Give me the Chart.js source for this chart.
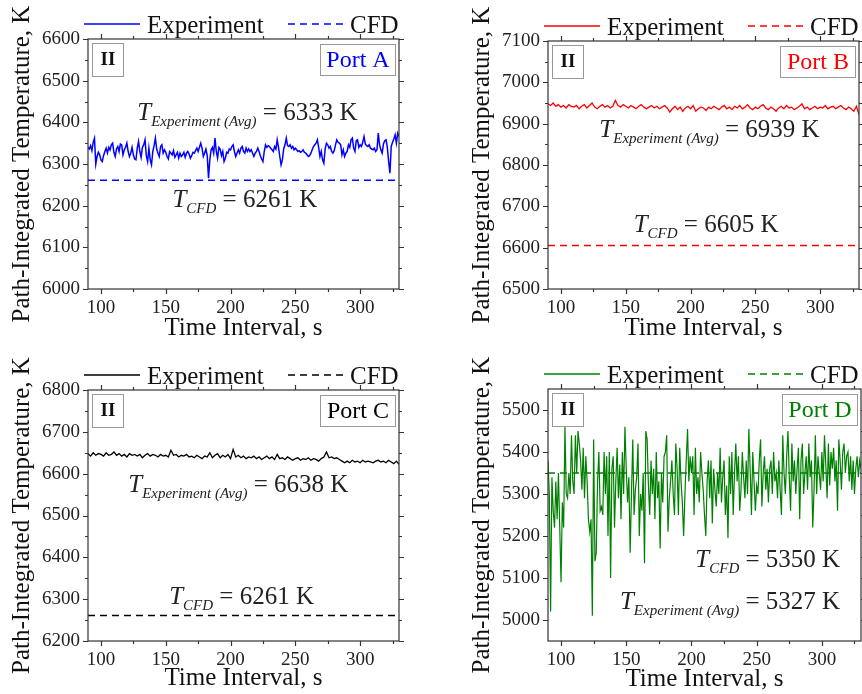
<!DOCTYPE html>
<html>
<head>
<meta charset="utf-8">
<script src="https://cdn.jsdelivr.net/npm/chart.js@4.4.1/dist/chart.umd.min.js"></script>
<style>
  html, body { margin: 0; padding: 0; background: #fff; }
  #wrap { position: relative; width: 862px; height: 694px; overflow: hidden; }
  canvas { position: absolute; }
</style>
</head>
<body>
<div id="wrap">
  <canvas id="cA" width="431" height="347" style="left:0;top:0;width:431px;height:347px"></canvas>
  <canvas id="cB" width="431" height="347" style="left:431px;top:0;width:431px;height:347px"></canvas>
  <canvas id="cC" width="431" height="347" style="left:0;top:347px;width:431px;height:347px"></canvas>
  <canvas id="cD" width="431" height="347" style="left:431px;top:347px;width:431px;height:347px"></canvas>
</div>
<script>
// ---- data ----
const timeStart = 90;   // s, first sample
const timeEnd = 330;

// Port A, 1 s samples from 90 s
const portA = [
  6340, 6336, 6344, 6332, 6352, 6362, 6300, 6318, 6328, 6322,
  6310, 6306, 6320, 6330, 6338, 6326, 6340, 6334, 6346, 6350,
  6328, 6318, 6336, 6342, 6330, 6348, 6346, 6322, 6334, 6340,
  6350, 6330, 6318, 6326, 6340, 6322, 6312, 6310, 6338, 6354,
  6330, 6316, 6340, 6346, 6358, 6320, 6306, 6338, 6310, 6298,
  6330, 6344, 6362, 6336, 6326, 6318, 6342, 6346, 6326, 6334,
  6328, 6318, 6312, 6330, 6326, 6322, 6332, 6316, 6322, 6328,
  6314, 6326, 6318, 6322, 6328, 6316, 6326, 6330, 6324, 6314,
  6320, 6328, 6326, 6332, 6338, 6330, 6340, 6350, 6338, 6318,
  6326, 6336, 6320, 6266, 6310, 6334, 6340, 6326, 6362, 6330,
  6314, 6340, 6336, 6320, 6330, 6306, 6314, 6328, 6326, 6336,
  6334, 6342, 6346, 6330, 6318, 6326, 6334, 6326, 6338, 6342,
  6330, 6326, 6338, 6330, 6336, 6330, 6334, 6326, 6318, 6326,
  6330, 6338, 6330, 6320, 6312, 6306, 6330, 6346, 6340, 6344,
  6342, 6338, 6334, 6330, 6342, 6336, 6358, 6340, 6318, 6298,
  6310, 6336, 6346, 6362, 6344, 6342, 6346, 6338, 6342, 6334,
  6338, 6334, 6330, 6332, 6328, 6330, 6334, 6328, 6326, 6322,
  6318, 6320, 6326, 6334, 6342, 6346, 6350, 6358, 6340, 6318,
  6330, 6310, 6302, 6336, 6350, 6346, 6338, 6342, 6330, 6326,
  6332, 6346, 6358, 6352, 6350, 6346, 6322, 6334, 6318, 6326,
  6330, 6346, 6340, 6358, 6362, 6338, 6330, 6356, 6358, 6340,
  6346, 6342, 6352, 6366, 6348, 6344, 6342, 6346, 6338, 6336,
  6334, 6338, 6330, 6334, 6374, 6346, 6334, 6326, 6348, 6356,
  6358, 6340, 6306, 6278, 6342, 6352, 6360, 6370, 6350, 6374,
  6366
];

// Port B, 2 s samples from 90 s
const portB = [
  6948, 6944, 6950, 6942, 6946, 6940, 6944, 6938, 6946, 6942,
  6940, 6944, 6936, 6942, 6946, 6938, 6944, 6950, 6940, 6936,
  6942, 6946, 6940, 6944, 6938, 6942, 6956, 6944, 6940, 6946,
  6942, 6938, 6944, 6940, 6936, 6942, 6946, 6940, 6936, 6940,
  6944, 6938, 6942, 6936, 6940, 6944, 6938, 6928, 6936, 6942,
  6934, 6940, 6930, 6938, 6942, 6936, 6944, 6930, 6936, 6940,
  6938, 6932, 6940, 6936, 6942, 6938, 6934, 6940, 6944, 6936,
  6940, 6934, 6942, 6938, 6944, 6936, 6940, 6946, 6938, 6934,
  6940, 6936, 6942, 6946, 6938, 6934, 6940, 6936, 6930, 6938,
  6942, 6936, 6944, 6938, 6940, 6934, 6938, 6942, 6948, 6936,
  6940, 6934, 6938, 6942, 6936, 6940, 6938, 6944, 6936, 6940,
  6942, 6936, 6940, 6944, 6938, 6934, 6940, 6936, 6930, 6942,
  6922
];

// Port C, 2 s samples from 90 s
const portC = [
  6648, 6642, 6650, 6644, 6648, 6646, 6642, 6650, 6644, 6646,
  6652, 6644, 6648, 6642, 6646, 6640, 6648, 6644, 6646, 6642,
  6646, 6638, 6644, 6648, 6642, 6646, 6644, 6640, 6646, 6642,
  6644, 6640, 6656, 6644, 6646, 6640, 6644, 6642, 6646, 6640,
  6642, 6638, 6644, 6640, 6636, 6642, 6640, 6650, 6638, 6644,
  6648, 6638, 6644, 6640, 6646, 6636, 6658, 6640, 6644, 6638,
  6642, 6636, 6640, 6638, 6642, 6636, 6640, 6634, 6638, 6642,
  6636, 6640, 6634, 6646, 6636, 6638, 6634, 6640, 6636, 6632,
  6636, 6638, 6632, 6636, 6634, 6638, 6632, 6636, 6634, 6630,
  6636, 6640, 6652, 6638, 6640, 6636, 6638, 6634, 6630, 6626,
  6630, 6626, 6632, 6628, 6630, 6626, 6632, 6628, 6630, 6628,
  6626, 6630, 6632, 6628, 6630, 6626, 6632, 6628, 6624, 6630,
  6622
];

// Port D, 1 s samples from 90 s
const portD = [
  5380, 5300, 5020, 5340, 5260, 5220, 5330, 5240, 5350, 5220,
  5090, 5280, 5220, 5460, 5300, 5290, 5350, 5300, 5440, 5330,
  5300, 5440, 5350, 5450, 5420, 5380, 5310, 5410, 5290, 5390,
  5330, 5240, 5210, 5240, 5010, 5430, 5140, 5160, 5330, 5400,
  5260, 5270, 5250, 5400, 5300, 5390, 5200, 5400, 5100, 5360,
  5390, 5220, 5330, 5410, 5290, 5370, 5240, 5400, 5300, 5460,
  5360, 5280, 5340, 5160, 5300, 5430, 5250, 5310, 5340, 5420,
  5200, 5300, 5260, 5350, 5135, 5450, 5430, 5320, 5250, 5380,
  5300, 5360, 5240, 5400, 5290, 5330, 5170, 5350, 5280, 5390,
  5400, 5440, 5210, 5290, 5330, 5380, 5300, 5250, 5420, 5360,
  5250, 5410, 5330, 5280, 5200, 5300, 5380, 5455, 5330, 5390,
  5350, 5390, 5250, 5410, 5300, 5340, 5280, 5400, 5350, 5310,
  5250, 5200, 5330, 5380, 5290, 5380, 5230, 5360, 5310, 5270,
  5350, 5300, 5410, 5280, 5340, 5380, 5250, 5320, 5195, 5390,
  5300, 5400, 5250, 5350, 5420, 5330, 5390, 5260, 5310, 5400,
  5340, 5290, 5380, 5300, 5455, 5360, 5250, 5400, 5330, 5260,
  5320, 5300, 5380, 5430, 5270, 5350, 5390, 5310, 5360, 5280,
  5360, 5380, 5300, 5400, 5330, 5350, 5290, 5380, 5310, 5250,
  5440, 5350, 5300, 5390, 5450, 5340, 5260, 5420, 5330, 5380,
  5300, 5360, 5410, 5240, 5380, 5420, 5300, 5350, 5390, 5310,
  5420, 5340, 5380, 5220, 5310, 5440, 5300, 5390, 5350, 5310,
  5400, 5330, 5440, 5370, 5290, 5420, 5320, 5400, 5360, 5410,
  5330, 5380, 5260, 5430, 5380, 5310, 5400, 5420, 5350, 5390,
  5400, 5330, 5390, 5310, 5380, 5300, 5360, 5390, 5340, 5380,
  5360
];

const cfdValues = [6261, 6605, 6261, 5350];        // CFD prediction, A..D
const avgValues = [6333, 6939, 6638, 5327];        // experiment averages, A..D
const portNames = ['Port A', 'Port B', 'Port C', 'Port D'];
const xTicks = [100, 150, 200, 250, 300];
const yTicksA = [6000, 6100, 6200, 6300, 6400, 6500, 6600];
const yTicksB = [6500, 6600, 6700, 6800, 6900, 7000, 7100];
const yTicksC = [6200, 6300, 6400, 6500, 6600, 6700, 6800];
const yTicksD = [5000, 5100, 5200, 5300, 5400, 5500];

const SERIF = '"Liberation Serif", "Times New Roman", serif';

function toPoints(values, step) {
  return values.map((v, i) => ({ x: timeStart + i * step, y: v }));
}

// draws T_sub = value K as one run of text
function drawRich(ctx, parts, x, baseY, align) {
  let total = 0;
  parts.forEach(p => { ctx.font = p.font; p.w = ctx.measureText(p.text).width; total += p.w; });
  let cx = align === 'right' ? x - total : x - total / 2;
  parts.forEach(p => {
    ctx.font = p.font;
    ctx.fillText(p.text, cx, baseY + (p.dy || 0));
    cx += p.w;
  });
}

const decor = {
  id: 'decor',
  afterDraw(chart, args, o) {
    const ctx = chart.ctx;
    const { left, right, top, bottom } = chart.chartArea;
    const xs = chart.scales.x, ys = chart.scales.y;
    ctx.save();

    // frame and outward ticks on all four sides
    ctx.strokeStyle = '#333';
    ctx.lineWidth = 1.2;
    ctx.strokeRect(left, top, right - left, bottom - top);
    ctx.beginPath();
    for (let t = 100; t <= 325; t += 25) {
      const px = Math.round(xs.getPixelForValue(t)) + 0.5;
      const len = t % 50 === 0 ? 5 : 3;
      ctx.moveTo(px, bottom); ctx.lineTo(px, bottom + len);
      ctx.moveTo(px, top); ctx.lineTo(px, top - len);
    }
    for (let v = o.yMin; v <= o.yMax; v += 50) {
      const py = Math.round(ys.getPixelForValue(v)) + 0.5;
      const len = v % 100 === 0 ? 5 : 3;
      ctx.moveTo(left, py); ctx.lineTo(left - len, py);
      ctx.moveTo(right, py); ctx.lineTo(right + len, py);
    }
    ctx.stroke();

    // "II" box and port box
    ctx.fillStyle = '#fff';
    ctx.strokeStyle = '#999';
    ctx.lineWidth = 1;
    ctx.fillRect(left + 4, top + 4, 31, 33);
    ctx.strokeRect(left + 4.5, top + 4.5, 31, 33);
    ctx.fillRect(right - 79, top + 5, 75, 31);
    ctx.strokeRect(right - 78.5, top + 5.5, 75, 31);
    ctx.textBaseline = 'middle';
    ctx.textAlign = 'center';
    ctx.fillStyle = '#111';
    ctx.font = 'bold 19px ' + SERIF;
    ctx.fillText('II', left + 20, top + 21.5);
    ctx.fillStyle = o.color;
    ctx.font = '24px ' + SERIF;
    ctx.fillText(o.port, right - 41, top + 21.5);

    // T annotations
    ctx.textBaseline = 'alphabetic';
    ctx.textAlign = 'left';
    ctx.fillStyle = '#222';
    const big = '25px ' + SERIF, bigI = 'italic 25px ' + SERIF, sub = 'italic 15px ' + SERIF;
    drawRich(ctx, [
      { text: 'T', font: bigI },
      { text: 'Experiment (Avg)', font: sub, dy: 6 },
      { text: ' = ' + o.avg + ' K', font: big }
    ], xs.getPixelForValue(o.expAt[0]), ys.getPixelForValue(o.expAt[1]), o.align);
    drawRich(ctx, [
      { text: 'T', font: bigI },
      { text: 'CFD', font: sub, dy: 6 },
      { text: ' = ' + o.cfd + ' K', font: big }
    ], xs.getPixelForValue(o.cfdAt[0]), ys.getPixelForValue(o.cfdAt[1]), o.align);

    // legend above the frame
    const ly = top - 15;
    ctx.strokeStyle = o.color;
    ctx.lineWidth = 1.5;
    ctx.beginPath();
    ctx.moveTo(left - 4, ly); ctx.lineTo(left + 52, ly);
    ctx.stroke();
    ctx.setLineDash([7, 5]);
    ctx.beginPath();
    ctx.moveTo(left + 200, ly); ctx.lineTo(left + 256, ly);
    ctx.stroke();
    ctx.setLineDash([]);
    ctx.fillStyle = '#111';
    ctx.font = big;
    ctx.fillText(chart.data.datasets[0].label, left + 59, top - 6);
    ctx.fillText(chart.data.datasets[1].label, left + 262, top - 6);
    ctx.restore();
  }
};

function makeChart(p) {
  const ctx = document.getElementById(p.canvas).getContext('2d');
  return new Chart(ctx, {
    type: 'line',
    data: {
      datasets: [
        {
          label: 'Experiment',
          data: toPoints(p.values, p.step),
          borderColor: p.color,
          borderWidth: p.lineWidth,
          pointRadius: 0,
          tension: 0
        },
        {
          label: 'CFD',
          data: [{ x: timeStart, y: p.cfd }, { x: timeEnd, y: p.cfd }],
          borderColor: p.color,
          borderWidth: 1.5,
          borderDash: [7, 5],
          pointRadius: 0
        }
      ]
    },
    options: {
      responsive: false,
      animation: false,
      events: [],
      layout: { padding: p.pad },
      plugins: {
        legend: { display: false },
        tooltip: { enabled: false },
        decor: {
          color: p.color, port: p.port, avg: p.avg, cfd: p.cfd,
          yMin: p.yTicks[0], yMax: p.yTicks[p.yTicks.length - 1],
          expAt: p.expAt, cfdAt: p.cfdAt, align: p.align
        }
      },
      scales: {
        x: {
          type: 'linear',
          min: timeStart,
          max: timeEnd,
          afterBuildTicks: s => { s.ticks = xTicks.map(v => ({ value: v })); },
          afterFit: s => { s.height = p.xAxisH; },
          grid: { display: false, drawTicks: false },
          border: { display: false },
          ticks: { font: { family: SERIF, size: 19 }, color: '#222', padding: 8, maxRotation: 0, autoSkip: false, callback: v => String(v) },
          title: { display: true, text: 'Time Interval, s', color: '#111', font: { family: SERIF, size: 25 }, padding: { top: 0, bottom: p.xTitlePad } }
        },
        y: {
          type: 'linear',
          min: p.yRange[0],
          max: p.yRange[1],
          afterBuildTicks: s => { s.ticks = p.yTicks.map(v => ({ value: v })); },
          afterFit: s => { s.width = 88; },
          grid: { display: false, drawTicks: false },
          border: { display: false },
          ticks: { font: { family: SERIF, size: 19 }, color: '#222', padding: 8, autoSkip: false, callback: v => String(v) },
          title: { display: true, text: 'Path-Integrated Temperature, K', color: '#111', font: { family: SERIF, size: 25 }, padding: { top: 7, bottom: 0 } }
        }
      }
    },
    plugins: [decor]
  });
}

makeChart({
  canvas: 'cA', values: portA, step: 1, color: '#0000ff', lineWidth: 1.5,
  cfd: cfdValues[0], avg: avgValues[0], port: portNames[0],
  yTicks: yTicksA, yRange: [6000, 6600],
  pad: { left: 0, right: 32, top: 39, bottom: 0 }, xAxisH: 58, xTitlePad: 4,
  expAt: [213, 6406], cfdAt: [211, 6197], align: 'center'
});
makeChart({
  canvas: 'cB', values: portB, step: 2, color: '#ff0000', lineWidth: 1.3,
  cfd: cfdValues[1], avg: avgValues[1], port: portNames[1],
  yTicks: yTicksB, yRange: [6500, 7100],
  pad: { left: 29, right: 3, top: 41, bottom: 0 }, xAxisH: 58, xTitlePad: 4,
  expAt: [214.6, 6868], cfdAt: [212, 6638], align: 'center'
});
makeChart({
  canvas: 'cC', values: portC, step: 2, color: '#000000', lineWidth: 1.3,
  cfd: cfdValues[2], avg: avgValues[2], port: portNames[2],
  yTicks: yTicksC, yRange: [6200, 6800],
  pad: { left: 0, right: 32, top: 43, bottom: 0 }, xAxisH: 53, xTitlePad: 1,
  expAt: [206, 6556], cfdAt: [208.5, 6288], align: 'center'
});
makeChart({
  canvas: 'cD', values: portD, step: 1, color: '#008000', lineWidth: 1.2,
  cfd: cfdValues[3], avg: avgValues[3], port: portNames[3],
  yTicks: yTicksD, yRange: [4950, 5550],
  pad: { left: 29, right: 1, top: 42, bottom: 0 }, xAxisH: 53, xTitlePad: 0,
  expAt: [314, 5026], cfdAt: [314, 5126], align: 'right'
});
</script>
</body>
</html>
